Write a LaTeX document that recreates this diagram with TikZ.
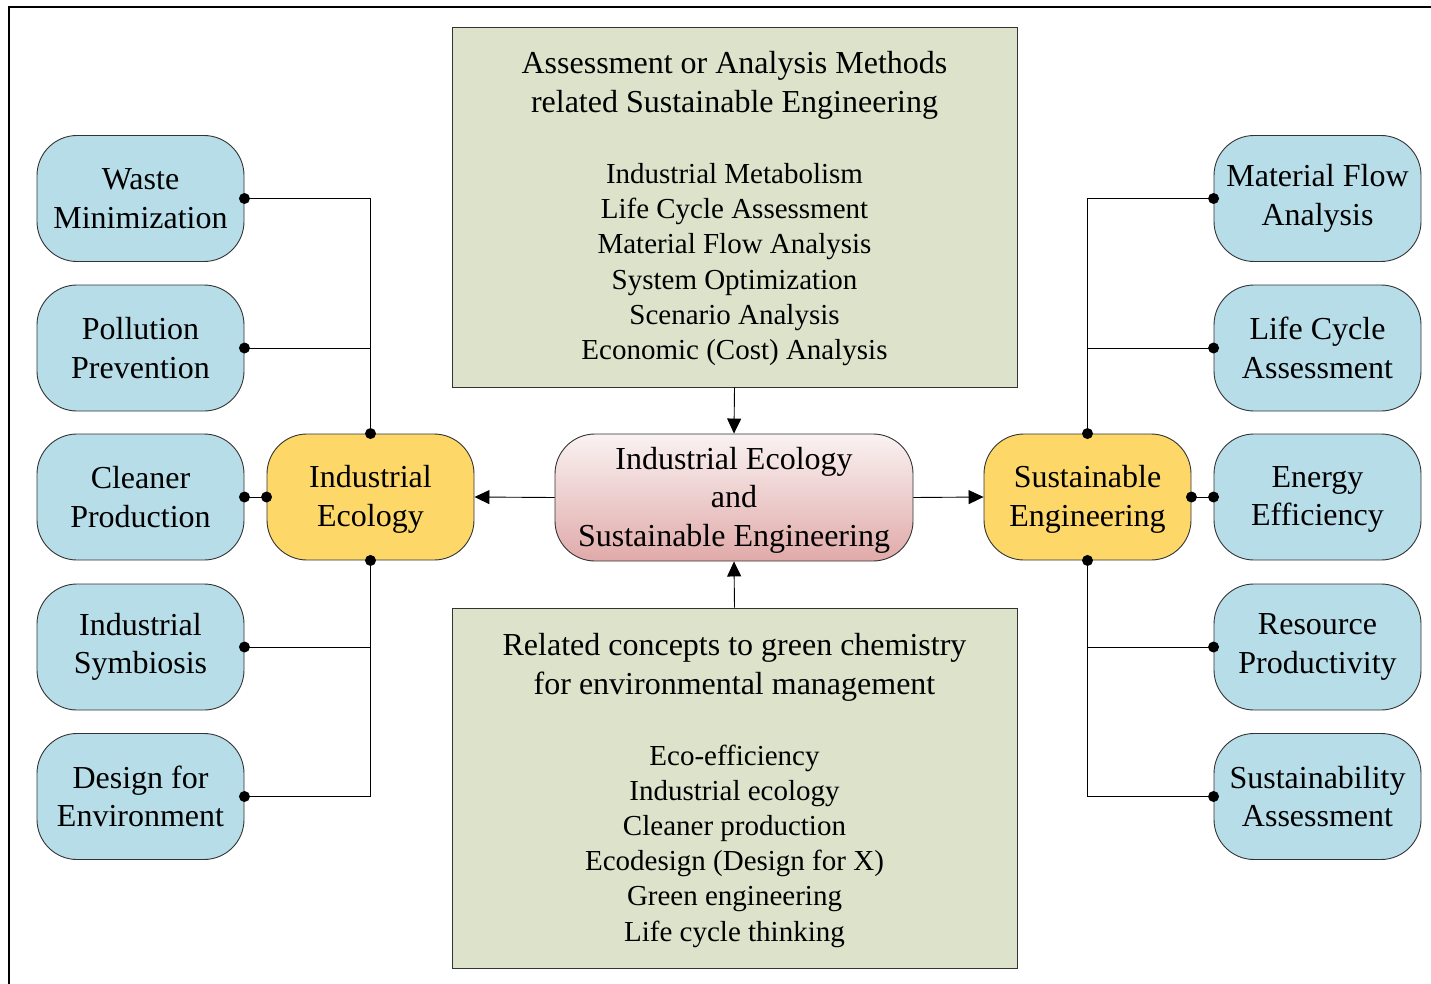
\documentclass[tikz,border=0pt]{standalone}
\usepackage{fontspec}
\setmainfont{Liberation Serif}
\usetikzlibrary{arrows.meta}
\definecolor{bluebox}{HTML}{B7DDE8}
\definecolor{yellowbox}{HTML}{FDD868}
\definecolor{greenbox}{HTML}{DDE2CB}
\definecolor{pinktop}{HTML}{FAF2F2}
\definecolor{pinkbot}{HTML}{E0AAA9}
\tikzset{
  base/.style={draw=black!80, line width=0.9pt, rounded corners=40pt, minimum width=207pt, minimum height=126pt, align=center, inner sep=0pt, font=\fontsize{32}{38.5}\selectfont},
  bluen/.style={base, fill=bluebox},
  yellown/.style={base, fill=yellowbox},
  centern/.style={base, minimum width=358pt, minimum height=127pt, top color=pinktop, bottom color=pinkbot},
  greenn/.style={draw=black!80, line width=0.9pt, fill=greenbox, minimum width=565pt, minimum height=360pt, inner sep=0pt},
  titlet/.style={font=\fontsize{32}{39}\selectfont, align=center},
  listt/.style={font=\fontsize{29}{35.2}\selectfont, align=center},
  conn/.style={line width=0.9pt},
  arr/.style={line width=0.9pt, -{Triangle[length=15pt,width=14pt]}},
  dot/.style={circle, fill=black, inner sep=0pt, minimum size=11pt},
  lbl/.style={align=center, font=\fontsize{32}{38.5}\selectfont, inner sep=0pt}
}
\begin{document}
\begin{tikzpicture}[x=1pt,y=-1pt]
\useasboundingbox (0,0) rectangle (1431,984);
\draw[line width=2.2pt] (9,990) -- (9,7) -- (1440,7);
% green boxes
\node[greenn] (gtop) at (734.5,207) {};
\node[titlet] (gtoptitle) at (734.5,85) {Assessment or Analysis Methods\\related Sustainable Engineering};
\node[listt] (gtoplist) at (734.5,264.5) {Industrial Metabolism\\Life Cycle Assessment\\Material Flow Analysis\\System Optimization\\Scenario Analysis\\Economic (Cost) Analysis};
\node[greenn] (gbot) at (734.5,788) {};
\node[titlet] (gbottitle) at (734.5,667) {Related concepts to green chemistry\\for environmental management};
\node[listt] (gbotlist) at (734.5,846) {Eco-efficiency\\Industrial ecology\\Cleaner production\\Ecodesign (Design for X)\\Green engineering\\Life cycle thinking};
% center
\node[centern] (c) at (734,497.5) {};
\node[lbl] (ctext) at (734,500) {Industrial Ecology\\and\\Sustainable Engineering};
% yellow
\node[yellown] (ie) at (370.5,497) {};
\node[lbl] (ietext) at (370.5,499.5) {Industrial\\Ecology};
\node[yellown] (se) at (1087.5,497) {};
\node[lbl] (setext) at (1087.5,499.5) {Sustainable\\Engineering};
% blue left
\node[bluen] (l1) at (140.5,198.5) {Waste\\Minimization};
\node[bluen] (l2) at (140.5,348) {Pollution\\Prevention};
\node[bluen] (l3) at (140.5,497) {Cleaner\\Production};
\node[bluen] (l4) at (140.5,647) {Industrial\\Symbiosis};
\node[bluen] (l5) at (140.5,796.5) {Design for\\Environment};
% blue right
\node[bluen] (r1) at (1317.5,198.5) {Material Flow\\Analysis};
\node[bluen] (r2) at (1317.5,348) {Life Cycle\\Assessment};
\node[bluen] (r3) at (1317.5,497) {};
\node[lbl] (r3text) at (1317.5,499.5) {Energy\\Efficiency};
\node[bluen] (r4) at (1317.5,647) {Resource\\Productivity};
\node[bluen] (r5) at (1317.5,796.5) {Sustainability\\Assessment};
% arrows
\draw[arr] (gtop.south) -- (c.north);
\draw[arr] (gbot.north) -- (c.south);
\draw[arr] (c.west) -- (ie.east);
\draw[arr] (c.east) -- (se.west);
% left connectors
\draw[conn] (l1.east) -| (ie.north);
\draw[conn] (l2.east) -| (ie.north);
\draw[conn] (l4.east) -| (ie.south);
\draw[conn] (l5.east) -| (ie.south);
\draw[conn] (l3.east) -- (ie.west);
\foreach \n in {l1,l2,l3,l4,l5} \node[dot] at (\n.east) {};
\node[dot] at (ie.north) {};
\node[dot] at (ie.south) {};
\node[dot] at (ie.west) {};
% right connectors
\draw[conn] (r1.west) -| (se.north);
\draw[conn] (r2.west) -| (se.north);
\draw[conn] (r4.west) -| (se.south);
\draw[conn] (r5.west) -| (se.south);
\draw[conn] (r3.west) -- (se.east);
\foreach \n in {r1,r2,r3,r4,r5} \node[dot] at (\n.west) {};
\node[dot] at (se.north) {};
\node[dot] at (se.south) {};
\node[dot] at (se.east) {};
\end{tikzpicture}
\end{document}
